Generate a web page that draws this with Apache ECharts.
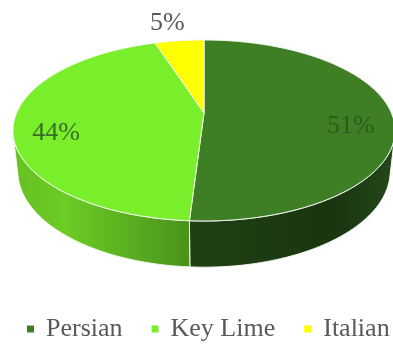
<!DOCTYPE html>
<html>
<head>
<meta charset="utf-8">
<script src="https://cdn.jsdelivr.net/npm/echarts@6/dist/echarts.min.js"></script>
<style>
  html, body { margin: 0; padding: 0; background: #ffffff; }
  #chart { width: 393px; height: 351px; }
</style>
</head>
<body>
<div id="chart"></div>
<script>
// Lime varieties and their share of the total
const categories = ['Persian', 'Key Lime', 'Italian'];
const shares = [51, 44, 5];

// Styling
const topColors = ['#3e7f25', '#79ee2b', '#ffff00'];
const sideGradients = [
  [[0, '#204114'], [0.7, '#1a3510'], [1, '#25481a']],
  [[0, '#66c022'], [0.3, '#6ccb25'], [1, '#4a921b']],
  [[0, '#b8b800'], [1, '#a0a000']]
];
const labelColors = ['#2c5a1e', '#3a6a28', '#595959'];
const FONT = '"Liberation Serif", "Times New Roman", serif';

// Perspective view of a unit disc lying flat, seen from above and in front
const CX = 204, CY = 113;          // screen position of the disc centre
const FOCAL = 859;                 // projection scale, px
const TILT = 27.7 * Math.PI / 180; // camera elevation
const DIST = 4.583;                // camera distance, in disc radii
const THICK = 0.248;               // disc thickness, in disc radii
const sT = Math.sin(TILT), cT = Math.cos(TILT);
const total = shares.reduce((a, b) => a + b, 0);

// project a point of the disc: r = radius fraction, theta clockwise from 12 o'clock,
// lift = height above the top face (negative goes down the wall)
function project(r, theta, lift) {
  const X = r * Math.sin(theta), Z = r * Math.cos(theta), Y = lift || 0;
  const depth = DIST + cT * Z - sT * Y;
  const up = cT * Y + sT * Z;
  return [CX + FOCAL * X / depth, CY - FOCAL * up / depth];
}
function arc(a, b, lift) {
  const n = Math.max(2, Math.ceil((b - a) / (Math.PI / 180)));
  const pts = [];
  for (let i = 0; i <= n; i++) pts.push(project(1, a + (b - a) * i / n, lift));
  return pts;
}

// angular range of the outer wall that faces the camera
const wallEdge = Math.acos(-1 / (DIST * cT));

function makeRenderer(idx) {
  return function (params, api) {
    const before = shares.slice(0, idx).reduce((a, b) => a + b, 0);
    const value = api.value(0);
    const start = before / total * Math.PI * 2;
    const end = (before + value) / total * Math.PI * 2;
    const children = [];

    const a = Math.max(start, wallEdge);
    const b = Math.min(end, Math.PI * 2 - wallEdge);
    if (b > a) {
      const pts = arc(a, b, 0).concat(arc(a, b, -THICK).reverse());
      children.push({
        type: 'polygon',
        z2: 1,
        shape: { points: pts },
        style: {
          fill: new echarts.graphic.LinearGradient(0, 0, 1, 0,
            sideGradients[idx].map(s => ({ offset: s[0], color: s[1] }))),
          stroke: '#f4f8ee',
          lineWidth: 1
        }
      });
    }

    children.push({
      type: 'polygon',
      z2: 10,
      shape: { points: [[CX, CY]].concat(arc(start, end, 0)) },
      style: { fill: topColors[idx], stroke: '#f4f8ee', lineWidth: 1 }
    });

    const mid = (start + end) / 2;
    const frac = value / total;
    let lx, ly;
    if (frac < 0.1) {
      const p = project(1, mid, 0);
      const dx = p[0] - CX, dy = p[1] - CY, len = Math.hypot(dx, dy);
      lx = p[0] + 19 * dx / len - 6;
      ly = p[1] + 19 * dy / len;
    } else {
      const p = project(0.78, mid, 0);
      lx = p[0];
      ly = p[1] + 11;
    }
    children.push({
      type: 'text',
      z2: 20,
      style: {
        text: Math.round(frac * 100) + '%',
        x: lx,
        y: ly,
        fill: labelColors[idx],
        font: '26px ' + FONT,
        align: 'center',
        verticalAlign: 'middle'
      }
    });

    return { type: 'group', children: children };
  };
}

const chart = echarts.init(document.getElementById('chart'), null, { renderer: 'canvas' });
chart.setOption({
  animation: false,
  backgroundColor: '#ffffff',
  legend: {
    data: categories,
    icon: 'rect',
    itemWidth: 7,
    itemHeight: 7,
    itemGap: 29,
    padding: 0,
    left: 27,
    top: 316,
    width: 390,
    textStyle: { fontFamily: 'Liberation Serif', fontSize: 26, color: '#595959', padding: [0, 0, 0, 7] }
  },
  series: categories.map((name, i) => ({
    type: 'custom',
    name: name,
    coordinateSystem: 'none',
    itemStyle: { color: topColors[i] },
    renderItem: makeRenderer(i),
    data: [shares[i]]
  }))
});
</script>
</body>
</html>
